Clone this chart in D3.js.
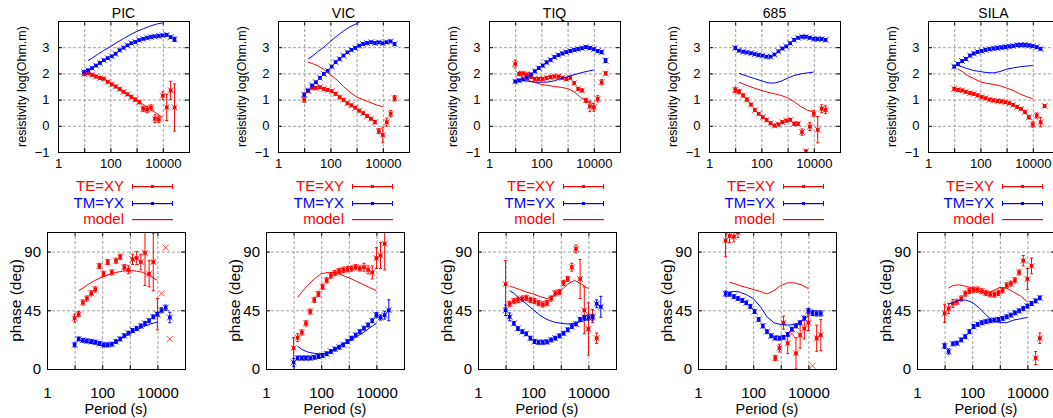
<!DOCTYPE html>
<html>
<head>
<meta charset="utf-8">
<script src="https://cdn.jsdelivr.net/npm/d3@7"></script>
<style>
  body { margin: 0; background: #fff; }
  svg { display: block; font-family: "Liberation Sans", Arial, sans-serif; }
</style>
</head>
<body>
<svg id="chart" width="1053" height="418"></svg>
<script>
// periods (s) of the measured data and of the model curves
const periods = [10, 14, 20, 28, 40, 56, 79, 112, 158, 224, 316, 447,
  631, 891, 1259, 1778, 2512, 3548, 5012, 7079, 10000, 14125, 19953, 28184];
const modelPeriods = [14, 20, 32, 56, 100, 178, 316, 562, 1000, 1778, 3162, 5623, 10000];
const siteNames = ['PIC', 'VIC', 'TIQ', '685', 'SILA'];
const xTickLabels = [1, 100, 10000];
const rhoTicks = [-1, 0, 1, 2, 3];
const phaseTicks = [0, 45, 90];

// ---- PIC ----
const picRhoTE = [1.97, 2.0, 1.95, 1.88, 1.82, 1.8, 1.68, 1.58, 1.5, 1.4, 1.3, 1.2,
  1.1, 1.0, 0.9, 0.65, 0.62, 0.7, 0.27, 0.25, 1.15, 0.7, 1.35, 0.7];
const picRhoTEErr = [0.05, 0.05, 0.05, 0.05, 0.05, 0.05, 0.05, 0.05, 0.05, 0.05, 0.05, 0.05,
  0.05, 0.06, 0.06, 0.1, 0.12, 0.1, 0.15, 0.12, 0.15, 0.5, 0.35, 0.9];
const picRhoTM = [2.05, 2.12, 2.2, 2.3, 2.4, 2.5, 2.58, 2.65, 2.75, 2.88, 2.98, 3.07,
  3.15, 3.2, 3.27, 3.32, 3.36, 3.39, 3.41, 3.43, 3.45, 3.47, 3.38, 3.3];
const picRhoTMErr = [0.04, 0.04, 0.04, 0.04, 0.04, 0.04, 0.04, 0.04, 0.04, 0.04, 0.04, 0.04,
  0.04, 0.04, 0.04, 0.04, 0.04, 0.04, 0.04, 0.04, 0.04, 0.04, 0.05, 0.08];
const picPhaTE = [39, 42, 51, 54, 58, 61, 79, 73, 82, 74, 83, 86,
  78, 76, 84, 85, 82, 89, 73, 82, 42, 58, 93, 23];
const picPhaTEErr = [3, 2, 2, 2, 2, 2, 2, 2, 2, 2, 2, 2,
  2, 3, 4, 5, 6, 25, 10, 22, 12, null, null, null];
const picPhaTM = [18.5, 23, 22, 21.5, 21, 20.5, 19.5, 18.5, 18.5, 19, 21, 23,
  25.5, 27.5, 29.5, 31, 33, 35, 37, 40, 42, 45, 47, 39.5];
const picPhaTMErr = [1.5, 1.5, 1.5, 1.5, 1.5, 1.5, 1.5, 1.5, 1.5, 1.5, 1.5, 1.5,
  1.5, 1.5, 1.5, 1.5, 1.5, 1.5, 1.5, 1.5, 1.5, 2, 2, 4];
const picModRhoTE = [2.0, 1.97, 1.9, 1.8, 1.65, 1.48, 1.32, 1.15, 1.0, 0.82, 0.65, 0.48, 0.32];
const picModRhoTM = [2.49, 2.58, 2.72, 2.88, 3.02, 3.18, 3.33, 3.47, 3.6, 3.7, 3.8, 3.88, 3.93];
const picModPhaTE = [60, 62, 65, 68, 70.5, 72.5, 74, 75, 75.5, 75, 74, 71, 68];
const picModPhaTM = [22, 21.5, 20.5, 19.5, 18, 18.5, 21, 24, 27, 30, 32.5, 34.5, 36];

// ---- VIC ----
const vicRhoTE = [1.0, 1.32, 1.45, 1.45, 1.47, 1.41, 1.37, 1.32, 1.22, 1.09, 0.99, 0.86,
  0.78, 0.69, 0.58, 0.48, 0.37, 0.27, 0.14, -0.2, -0.35, 0.14, 0.46, 1.05];
const vicRhoTEErr = [0.1, 0.05, 0.05, 0.05, 0.05, 0.05, 0.05, 0.05, 0.05, 0.05, 0.05, 0.05,
  0.05, 0.05, 0.05, 0.05, 0.05, 0.05, 0.06, 0.1, 0.3, 0.15, 0.12, 0.1];
const vicRhoTM = [1.19, 1.35, 1.54, 1.66, 1.83, 1.98, 2.1, 2.26, 2.43, 2.55, 2.68, 2.8,
  2.9, 2.97, 3.06, 3.12, 3.16, 3.19, 3.16, 3.18, 3.15, 3.19, 3.22, 3.12];
const vicRhoTMErr = [0.06, 0.04, 0.04, 0.04, 0.04, 0.04, 0.04, 0.04, 0.04, 0.04, 0.04, 0.04,
  0.04, 0.04, 0.04, 0.04, 0.04, 0.04, 0.04, 0.04, 0.04, 0.04, 0.05, 0.06];
const vicPhaTE = [16, 24, 28, 35, 44, 53, 57.5, 63, 68, 71.5, 73.5, 75,
  76, 76.5, 77, 78, 77, 78, 76, 74, 85, 87, 96, null];
const vicPhaTEErr = [8, 3, 2, 2, 2, 2, 2, 2, 2, 2, 2, 2,
  2, 2, 2, 2, 2, 3, 3, 5, 8, 10, 20, 0];
const vicPhaTM = [5, 8.4, 8.4, 8.4, 8.4, 9, 9.6, 10.4, 11.7, 13.4, 15.2, 16.7,
  18.5, 21, 23.6, 26, 28.6, 31.2, 33.7, 37, 41.3, 39.5, 41.3, 45];
const vicPhaTMErr = [3, 1.5, 1.5, 1.5, 1.5, 1.5, 1.5, 1.5, 1.5, 1.5, 1.5, 1.5,
  1.5, 1.5, 1.5, 1.5, 1.5, 1.5, 1.5, 1.5, 2, 2, 3, 8];
const vicModRhoTE = [2.43, 2.38, 2.3, 2.15, 1.95, 1.75, 1.5, 1.28, 1.1, 1.0, 0.9, 0.8, 0.73];
const vicModRhoTM = [2.55, 2.65, 2.82, 3.0, 3.22, 3.43, 3.62, 3.78, 3.9, 4.05, 4.2, 4.3, 4.4];
const vicModPhaTE = [55, 59, 64, 69, 73, 74, 74, 72, 70, 67.5, 65, 62.5, 60];
const vicModPhaTM = [17.5, 15, 13, 12, 11.5, 12.5, 15, 19, 21, 24.5, 27.5, 31.5, 35];

// ---- TIQ ----
const tiqRhoTE = [2.36, 1.98, 2.0, 1.96, 1.86, 1.79, 1.79, 1.79, 1.83, 1.86, 1.88, 1.88,
  1.83, 1.79, 1.83, 1.63, 1.41, 1.35, 0.97, 0.74, 0.71, 1.03, 1.66, 2.0];
const tiqRhoTEErr = [0.15, 0.06, 0.05, 0.05, 0.05, 0.05, 0.05, 0.05, 0.05, 0.05, 0.05, 0.05,
  0.05, 0.05, 0.05, 0.05, 0.06, 0.06, 0.08, 0.2, 0.15, 0.12, 0.1, 0.06];
const tiqRhoTM = [1.69, 1.73, 1.77, 1.83, 1.96, 2.08, 2.2, 2.3, 2.42, 2.52, 2.62, 2.7,
  2.76, 2.81, 2.86, 2.9, 2.93, 2.96, 3.0, 2.97, 2.92, 2.85, 2.81, 2.49];
const tiqRhoTMErr = [0.05, 0.05, 0.05, 0.05, 0.05, 0.05, 0.05, 0.05, 0.05, 0.05, 0.05, 0.05,
  0.05, 0.05, 0.05, 0.05, 0.05, 0.05, 0.05, 0.05, 0.05, 0.05, 0.06, 0.08];
const tiqPhaTE = [65, 50, 52, 53, 54, 54.5, 53, 52, 50.5, 49.5, 50.5, 54,
  58, 59, 66, 69, 78, 92, 69, 45, 30.7, 40.6, 23.6, null];
const tiqPhaTEErr = [18, 2, 2, 2, 2, 2, 2, 2, 2, 2, 2, 2,
  2, 2, 2, 2, 3, 3, 15, 18, 20, 5, 4, 0];
const tiqPhaTM = [45, 40, 35, 31, 28.6, 27, 23.6, 21, 20.5, 20.5, 20.8, 22.3,
  23.6, 25.4, 27.4, 30, 32.5, 34.5, 38, 39.5, 39.5, 39.5, 50, 47.7];
const tiqPhaTMErr = [4, 3, 1.5, 1.5, 1.5, 1.5, 1.5, 1.5, 1.5, 1.5, 1.5, 1.5,
  1.5, 1.5, 1.5, 1.5, 1.5, 1.5, 1.5, 1.5, 2, 2, 3, 8];
const tiqModRhoTE = [2.1, 1.85, 1.72, 1.65, 1.58, 1.54, 1.5, 1.47, 1.42, 1.3, 1.08, 0.92, 0.84];
const tiqModRhoTM = [1.78, 1.74, 1.7, 1.67, 1.66, 1.67, 1.72, 1.8, 1.88, 1.95, 2.02, 2.08, 2.13];
const tiqModPhaTE = [63.5, 62.5, 61, 59, 57.5, 55.5, 54, 56, 60, 65, 68, 65, 61.5];
const tiqModPhaTM = [60, 58, 54, 50, 45.5, 41, 38, 36, 35, 34.5, 35, 36.5, 38];

// ---- 685 ----
const s685RhoTE = [1.37, 1.3, 1.16, 1.0, 0.81, 0.6, 0.46, 0.33, 0.22, 0.1, 0.01, 0.05,
  0.14, 0.2, 0.23, 0.08, 0.08, -0.24, -0.97, -0.03, 0.46, -0.15, 0.65, 0.61];
const s685RhoTEErr = [0.1, 0.08, 0.06, 0.06, 0.05, 0.05, 0.05, 0.05, 0.05, 0.05, 0.05, 0.05,
  0.05, 0.05, 0.05, 0.06, 0.06, 0.12, 0.05, 0.15, 0.12, 0.5, 0.15, 0.15];
const s685RhoTM = [2.97, 2.87, 2.83, 2.8, 2.77, 2.73, 2.7, 2.68, 2.64, 2.64, 2.72, 2.84,
  2.95, 3.03, 3.15, 3.28, 3.36, 3.4, 3.4, 3.36, 3.32, 3.31, 3.31, 3.28];
const s685RhoTMErr = [0.05, 0.04, 0.04, 0.04, 0.04, 0.04, 0.04, 0.04, 0.04, 0.04, 0.04, 0.04,
  0.04, 0.04, 0.04, 0.04, 0.04, 0.04, 0.04, 0.04, 0.04, 0.04, 0.04, 0.05];
const s685PhaTE = [98.4, 102, 101.4, 104.7, null, null, null, null, null, null, null, null,
  8.4, 16, 35.5, 19.8, 27, 12, 26, 31, 35.5, 2.5, 23.6, 26];
const s685PhaTEErr = [12, 5, 4, 4, 0, 0, 0, 0, 0, 0, 0, 0,
  2, 3, 5, 8, null, 12, 10, 8, 6, null, 10, 12];
const s685PhaTM = [57.8, 57.3, 55.5, 54, 52.5, 50.7, 48, 44, 38, 33, 28.6, 25.4,
  23.8, 23.6, 24.3, 26.5, 30.5, 33, 35.5, 39, 44.5, 43, 42.6, 42.6];
const s685PhaTMErr = [2, 1.5, 1.5, 1.5, 1.5, 1.5, 1.5, 1.5, 1.5, 1.5, 1.5, 1.5,
  1.5, 1.5, 1.5, 1.5, 1.5, 1.5, 1.5, 1.5, 2, 2, 2, 2];
const s685ModRhoTE = [1.66, 1.6, 1.52, 1.43, 1.35, 1.28, 1.22, 1.16, 1.07, 0.92, 0.74, 0.6, 0.52];
const s685ModRhoTM = [2.0, 1.95, 1.88, 1.8, 1.72, 1.64, 1.63, 1.7, 1.82, 1.92, 1.98, 2.02, 2.05];
const s685ModPhaTE = [66.5, 65.5, 64, 62.5, 61, 59.5, 57.5, 60, 64, 66, 66, 64.5, 61.6];
const s685ModPhaTM = [59, 59.5, 59, 57, 54, 48, 40, 35.5, 34, 33.7, 34, 36.5, 40.5];

// ---- SILA ----
const silaRhoTE = [1.41, 1.37, 1.35, 1.3, 1.25, 1.22, 1.16, 1.1, 1.05, 1.0, 0.97, 0.95,
  0.93, 0.9, 0.86, 0.8, 0.72, 0.65, 0.52, 0.33, 0.05, 0.39, 0.14, 0.76];
const silaRhoTEErr = [0.06, 0.05, 0.05, 0.05, 0.05, 0.05, 0.05, 0.05, 0.05, 0.05, 0.05, 0.05,
  0.05, 0.05, 0.05, 0.05, 0.05, 0.05, 0.05, 0.07, 0.1, 0.1, 0.18, 0.05];
const silaRhoTM = [2.26, 2.36, 2.47, 2.55, 2.68, 2.76, 2.82, 2.86, 2.9, 2.93, 2.95, 2.97,
  2.99, 3.01, 3.03, 3.05, 3.08, 3.09, 3.09, 3.07, 3.04, 3.0, 2.94, null];
const silaRhoTMErr = [0.05, 0.05, 0.05, 0.05, 0.05, 0.05, 0.05, 0.05, 0.05, 0.05, 0.05, 0.05,
  0.05, 0.05, 0.05, 0.05, 0.05, 0.05, 0.05, 0.05, 0.05, 0.05, 0.05, 0];
const silaPhaTE = [42.6, 46.4, 50.2, 51.5, 54, 57.8, 59.8, 60.8, 60.8, 59.6, 58.3, 57.3,
  57, 58.3, 60.3, 64.1, 65.4, 68, 74, 83, 69, 79, 8.4, 23.6];
const silaPhaTEErr = [7, 4, 3, 2, 2, 2, 2, 2, 2, 2, 2, 2,
  2, 2, 2, 2, 2, 2, 2, 4, 8, 6, 5, 4];
const silaPhaTM = [17.7, 13.4, 19.3, 19.8, 22.3, 24.8, 28.6, 32.5, 34.2, 35.5, 36.3, 37,
  37.5, 38, 38.8, 40, 41.3, 43, 44.6, 46.4, 48.2, 50.2, 52.2, 54.5];
const silaPhaTMErr = [2, 2, 1.5, 1.5, 1.5, 1.5, 1.5, 1.5, 1.5, 1.5, 1.5, 1.5,
  1.5, 1.5, 1.5, 1.5, 1.5, 1.5, 1.5, 1.5, 1.5, 1.5, 1.5, 1.5];
const silaModRhoTE = [2.17, 2.08, 1.92, 1.8, 1.68, 1.62, 1.58, 1.53, 1.44, 1.35, 1.22, 1.12, 1.03];
const silaModRhoTM = [2.3, 2.25, 2.18, 2.11, 2.07, 2.03, 2.02, 2.07, 2.16, 2.21, 2.25, 2.28, 2.3];
const silaModPhaTE = [62, 64, 64.5, 63.5, 62, 59.5, 58, 60, 62.5, 62, 59, 56, 51.5];
const silaModPhaTM = [49.5, 51, 52.5, 53, 51, 47, 41.5, 37, 35.5, 35.5, 37.5, 38.5, 39.5];

// table built from the arrays above
const sites = [
  [picRhoTE, picRhoTEErr, picRhoTM, picRhoTMErr, picPhaTE, picPhaTEErr, picPhaTM, picPhaTMErr,
    picModRhoTE, picModRhoTM, picModPhaTE, picModPhaTM],
  [vicRhoTE, vicRhoTEErr, vicRhoTM, vicRhoTMErr, vicPhaTE, vicPhaTEErr, vicPhaTM, vicPhaTMErr,
    vicModRhoTE, vicModRhoTM, vicModPhaTE, vicModPhaTM],
  [tiqRhoTE, tiqRhoTEErr, tiqRhoTM, tiqRhoTMErr, tiqPhaTE, tiqPhaTEErr, tiqPhaTM, tiqPhaTMErr,
    tiqModRhoTE, tiqModRhoTM, tiqModPhaTE, tiqModPhaTM],
  [s685RhoTE, s685RhoTEErr, s685RhoTM, s685RhoTMErr, s685PhaTE, s685PhaTEErr, s685PhaTM, s685PhaTMErr,
    s685ModRhoTE, s685ModRhoTM, s685ModPhaTE, s685ModPhaTM],
  [silaRhoTE, silaRhoTEErr, silaRhoTM, silaRhoTMErr, silaPhaTE, silaPhaTEErr, silaPhaTM, silaPhaTMErr,
    silaModRhoTE, silaModRhoTM, silaModPhaTE, silaModPhaTM]
].map((a, i) => ({
  name: siteNames[i],
  rhoTE: a[0], rhoTEErr: a[1], rhoTM: a[2], rhoTMErr: a[3],
  phaTE: a[4], phaTEErr: a[5], phaTM: a[6], phaTMErr: a[7],
  modRhoTE: a[8], modRhoTM: a[9], modPhaTE: a[10], modPhaTM: a[11]
}));

// ---- layout ----
const RED = '#ff0000';
const BLUE = '#0000ff';
const GRID = '#a0a0a0';
const topLeft = [58, 278, 489, 709, 928];
const botLeft = [47, 266, 478, 698, 917];
const TOP = { y: 21, w: 131, h: 131 };
const BOT = { y: 232, w: 138, h: 137 };

const svg = d3.select('#chart');
const defs = svg.append('defs');
let clipId = 0;

// box with dashed grid, inward ticks, tick labels and border
function frame(left, box, yDomain, yTicks, yGrid, opt) {
  const x = d3.scaleLog().domain([1, 1e5]).range([left, left + box.w]);
  const y = d3.scaleLinear().domain(yDomain).range([box.y + box.h, box.y]);
  const bottom = box.y + box.h;
  const g = svg.append('g');

  const dashed = (s) => {
    s.select('.domain').remove();
    s.selectAll('line').attr('stroke', GRID).attr('stroke-dasharray', '3,2');
  };
  g.append('g').attr('transform', `translate(0,${bottom})`)
    .call(d3.axisBottom(x).tickValues([10, 100, 1000, 10000]).tickSize(-box.h).tickFormat(''))
    .call(dashed);
  g.append('g').attr('transform', `translate(${left},0)`)
    .call(d3.axisLeft(y).tickValues(yGrid).tickSize(-box.w).tickFormat(''))
    .call(dashed);

  // small inward ticks on all four sides
  const decades = [1, 10, 100, 1000, 10000, 100000];
  const noDomain = (s) => s.select('.domain').remove();
  g.append('g').attr('transform', `translate(0,${bottom})`)
    .call(d3.axisBottom(x).tickValues(decades).tickSize(-4).tickFormat('')).call(noDomain);
  g.append('g').attr('transform', `translate(0,${box.y})`)
    .call(d3.axisTop(x).tickValues(decades).tickSize(-4).tickFormat('')).call(noDomain);
  g.append('g').attr('transform', `translate(${left},0)`)
    .call(d3.axisLeft(y).tickValues(yTicks).tickSize(-4).tickFormat('')).call(noDomain);
  g.append('g').attr('transform', `translate(${left + box.w},0)`)
    .call(d3.axisRight(y).tickValues(yTicks).tickSize(-4).tickFormat('')).call(noDomain);

  // tick labels
  g.append('g').attr('transform', `translate(0,${bottom})`)
    .call(d3.axisBottom(x).tickValues(xTickLabels).tickFormat(d3.format('d')).tickSize(0).tickPadding(opt.xPad))
    .call(noDomain)
    .attr('font-family', null).attr('font-size', opt.fs).attr('color', '#000');
  g.append('g').attr('transform', `translate(${left},0)`)
    .call(d3.axisLeft(y).tickValues(yTicks).tickFormat(d3.format('d')).tickSize(0).tickPadding(opt.yPad))
    .call(noDomain)
    .attr('font-family', null).attr('font-size', opt.fs).attr('color', '#000');

  const id = 'clip' + (clipId++);
  defs.append('clipPath').attr('id', id)
    .append('rect').attr('x', left).attr('y', box.y).attr('width', box.w + 1).attr('height', box.h + 1);
  const plot = svg.append('g').attr('clip-path', `url(#${id})`);

  svg.append('rect')
    .attr('x', left + 0.5).attr('y', box.y + 0.5)
    .attr('width', box.w).attr('height', box.h)
    .attr('fill', 'none').attr('stroke', '#000');

  return { x, y, plot };
}

// measured data: x marker for every value, error bar + square for edited values
function drawData(p, vals, errs, color) {
  periods.forEach((per, i) => {
    const v = vals[i];
    if (v === null) return;
    const cx = p.x(per), cy = p.y(v);
    p.plot.append('path')
      .attr('d', `M${cx - 3},${cy - 3}L${cx + 3},${cy + 3}M${cx - 3},${cy + 3}L${cx + 3},${cy - 3}`)
      .attr('stroke', color).attr('stroke-opacity', 0.7).attr('fill', 'none');
    const e = errs[i];
    if (e === null) return;
    const y1 = p.y(v - e), y2 = p.y(v + e);
    p.plot.append('path')
      .attr('d', `M${cx},${y1}V${y2}M${cx - 1.5},${y1}H${cx + 1.5}M${cx - 1.5},${y2}H${cx + 1.5}`)
      .attr('stroke', color).attr('fill', 'none');
    p.plot.append('rect')
      .attr('x', cx - 1.75).attr('y', cy - 1.75).attr('width', 3.5).attr('height', 3.5)
      .attr('fill', color);
  });
}

function drawModel(p, vals, color) {
  const line = d3.line().x((d) => p.x(d[0])).y((d) => p.y(d[1]));
  p.plot.append('path')
    .datum(d3.zip(modelPeriods, vals))
    .attr('d', line)
    .attr('fill', 'none').attr('stroke', color).attr('stroke-width', 1);
}

sites.forEach((s, c) => {
  const lt = topLeft[c];
  const lb = botLeft[c];

  // resistivity panel
  const top = frame(lt, TOP, [-1, 4], rhoTicks, [0, 1, 2, 3], { fs: 13, xPad: 6.8, yPad: 8.5 });
  drawData(top, s.rhoTE, s.rhoTEErr, RED);
  drawData(top, s.rhoTM, s.rhoTMErr, BLUE);
  drawModel(top, s.modRhoTE, RED);
  drawModel(top, s.modRhoTM, BLUE);

  svg.append('text')
    .attr('x', lt + TOP.w / 2).attr('y', 17.5)
    .attr('text-anchor', 'middle').attr('font-size', 14)
    .text(s.name);
  svg.append('text')
    .attr('transform', `translate(${lt - 32},${TOP.y + TOP.h / 2}) rotate(-90)`)
    .attr('text-anchor', 'middle').attr('font-size', 12.5)
    .text('resistivity log(Ohm.m)');

  // legend
  const legendRows = [
    { label: 'TE=XY', color: RED, bars: true, y: 186 },
    { label: 'TM=YX', color: BLUE, bars: true, y: 203 },
    { label: 'model', color: RED, bars: false, y: 219 }
  ];
  const legend = svg.append('g');
  legendRows.forEach((r) => {
    legend.append('text')
      .attr('x', lt + 66).attr('y', r.y + 5.3)
      .attr('text-anchor', 'end').attr('font-size', 15).attr('fill', r.color)
      .text(r.label);
    const x1 = lt + 74, x2 = lt + 115;
    legend.append('rect')
      .attr('x', x1).attr('y', r.y).attr('width', x2 - x1).attr('height', 1.2)
      .attr('fill', r.color);
    if (r.bars) {
      legend.append('rect').attr('x', x1).attr('y', r.y - 2).attr('width', 1).attr('height', 5)
        .attr('fill', r.color);
      legend.append('rect').attr('x', x2 - 1).attr('y', r.y - 2).attr('width', 1).attr('height', 5)
        .attr('fill', r.color);
      legend.append('rect')
        .attr('x', (x1 + x2) / 2 - 1.5).attr('y', r.y - 1).attr('width', 3).attr('height', 3)
        .attr('fill', r.color);
    }
  });

  // phase panel
  const bot = frame(lb, BOT, [0, 105], phaseTicks, [45, 90], { fs: 15, xPad: 18.3, yPad: 6 });
  drawData(bot, s.phaTE, s.phaTEErr, RED);
  drawData(bot, s.phaTM, s.phaTMErr, BLUE);
  drawModel(bot, s.modPhaTE, RED);
  drawModel(bot, s.modPhaTM, BLUE);

  svg.append('text')
    .attr('transform', `translate(${lb - 26},${BOT.y + BOT.h / 2}) rotate(-90)`)
    .attr('text-anchor', 'middle').attr('font-size', 15.5)
    .text('phase (deg)');
  svg.append('text')
    .attr('x', lb + BOT.w / 2).attr('y', 414)
    .attr('text-anchor', 'middle').attr('font-size', 14.5)
    .text('Period (s)');
});
</script>
</body>
</html>
